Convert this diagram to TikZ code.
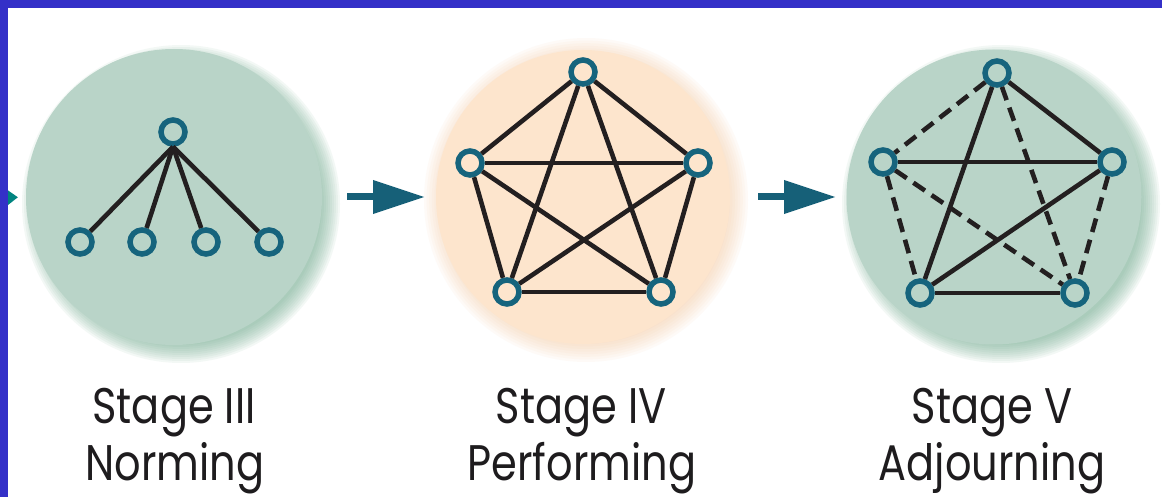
\documentclass[tikz,border=0pt]{standalone}
\usepackage{fontspec}
\setmainfont{Poppins}[FakeStretch=0.83]
\usetikzlibrary{arrows.meta}
\definecolor{bluebar}{RGB}{52,48,200}
\definecolor{sage}{RGB}{185,212,200}
\definecolor{sagedark}{RGB}{110,170,140}
\definecolor{peach}{RGB}{253,229,205}
\definecolor{peachdark}{RGB}{249,196,150}
\definecolor{ringc}{RGB}{22,100,125}
\definecolor{edgec}{RGB}{35,31,32}
\definecolor{arrowc}{RGB}{22,96,120}
\definecolor{tealtip}{RGB}{0,132,128}
\definecolor{textc}{RGB}{30,28,30}
\tikzset{
  disc/.style={circle, inner sep=0pt, outer sep=0pt, minimum size=296pt},
  member/.style={circle, draw=ringc, line width=5.5pt, minimum size=24pt, inner sep=0pt, outer sep=2.75pt},
  tie/.style={draw=edgec, line width=4.6pt},
  weak/.style={tie, dash pattern=on 14pt off 8pt},
  flow/.style={draw=arrowc, line width=7pt, -{Triangle[length=52pt,width=32pt]}},
  inflow/.style={draw=tealtip, line width=7pt, -{Triangle[length=20pt,width=28pt]}},
  stagetext/.style={font=\fontsize{50}{54}\selectfont, text=textc, anchor=base}
}
\begin{document}
\begin{tikzpicture}[x=1pt,y=-1pt]
\useasboundingbox (0,0) rectangle (1162,497);
\fill[white] (0,0) rectangle (1162,497);

% soft shadows / glows
\foreach \k in {1,...,10} {
  \fill[sagedark, fill opacity=0.08] (181,204) circle ({139+\k*2});
  \fill[sagedark, fill opacity=0.08] (1001,204) circle ({139+\k*2});
  \fill[peachdark, fill opacity=0.07] (586,200) circle ({136+\k*2.6});
}

% discs
\node[disc, fill=sage] (s1) at (174,197) {};
\node[disc, fill=peach, minimum size=294pt] (s2) at (583,197) {};
\node[disc, fill=sage, minimum size=295pt] (s3) at (994,197) {};

% Stage III
\node[member] (a0) at (173,132) {};
\node[member] (a1) at (80,242) {};
\node[member] (a2) at (142,242) {};
\node[member] (a3) at (206,242) {};
\node[member] (a4) at (269,242) {};
\foreach \b in {a1,a2,a3,a4} \draw[tie] (a0.south) -- (\b);

% Stage IV
\node[member] (b0) at (583,72) {};
\node[member] (b1) at (470,163) {};
\node[member] (b2) at (698,163) {};
\node[member] (b3) at (507,292) {};
\node[member] (b4) at (661,292) {};
\draw[tie] (b0) -- (b1);
\draw[tie] (b0) -- (b2);
\draw[tie] (b0) -- (b3);
\draw[tie] (b0) -- (b4);
\draw[tie] (b1) -- (b2);
\draw[tie] (b1) -- (b3);
\draw[tie] (b1) -- (b4);
\draw[tie] (b2) -- (b3);
\draw[tie] (b2) -- (b4);
\draw[tie] (b3) -- (b4);

% Stage V
\node[member] (c0) at (997,73) {};
\node[member] (c1) at (883,162) {};
\node[member] (c2) at (1112,162) {};
\node[member] (c3) at (920,293) {};
\node[member] (c4) at (1075,293) {};
\draw[weak] (c0) -- (c1);
\draw[tie] (c0) -- (c2);
\draw[tie] (c0) -- (c3);
\draw[weak] (c0) -- (c4);
\draw[tie] (c1) -- (c2);
\draw[weak] (c1) -- (c3);
\draw[weak] (c1) -- (c4);
\draw[tie] (c2) -- (c3);
\draw[weak] (c2) -- (c4);
\draw[tie] (c3) -- (c4);

% arrows between stages
\coordinate (offleft) at (-40,199);
\draw[inflow, shorten >=8pt] (offleft) -- (s1.west);
\draw[flow, shorten <=25pt, shorten >=11pt] (s1.east) -- (s2.west);
\draw[flow, shorten <=28pt, shorten >=10.5pt] (s2.east) -- (s3.west);

% labels
\node[stagetext] (l1a) at (174,423) {Stage III};
\node[stagetext] (l1b) at (175,480) {Norming};
\node[stagetext] (l2a) at (581,423) {Stage IV};
\node[stagetext] (l2b) at (582,480) {Performing};
\node[stagetext] (l3a) at (992,423) {Stage V};
\node[stagetext] (l3b) at (992,480) {Adjourning};

% blue frame
\fill[bluebar] (0,0) rectangle (8,497);
\fill[bluebar] (0,0) rectangle (1162,8);
\end{tikzpicture}
\end{document}
